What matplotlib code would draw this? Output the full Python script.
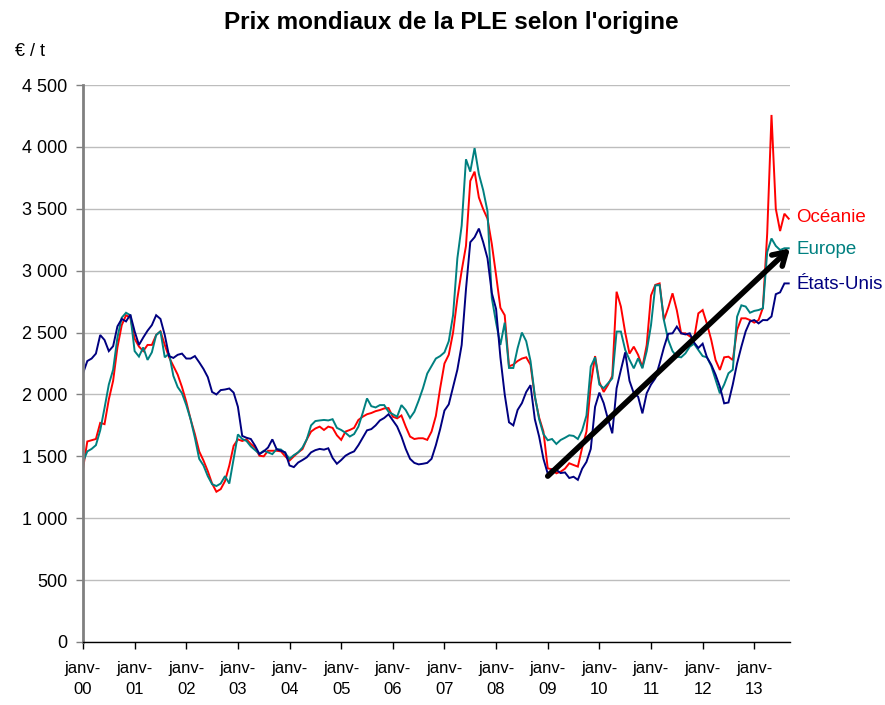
import matplotlib
matplotlib.use("Agg")
import matplotlib.pyplot as plt
from matplotlib.ticker import FixedLocator, FuncFormatter, MultipleLocator
import numpy as np

# Monthly prices (EUR / t), January 2000 to September 2013
oceanie = [
    1400, 1620, 1630, 1640, 1770, 1760, 1960, 2110, 2380, 2560,
    2640, 2620, 2450, 2387, 2350, 2400, 2400, 2480, 2510, 2400,
    2300, 2230, 2160, 2060, 1941, 1800, 1680, 1540, 1466, 1380,
    1280, 1214, 1235, 1300, 1426, 1585, 1637, 1624, 1637, 1600,
    1570, 1505, 1500, 1545, 1545, 1545, 1540, 1500, 1466, 1500,
    1532, 1558, 1637, 1700, 1725, 1740, 1713, 1740, 1730, 1670,
    1633, 1700, 1713, 1730, 1794, 1820, 1840, 1850, 1865, 1874,
    1887, 1890, 1820, 1807, 1830, 1740, 1660, 1640, 1646, 1646,
    1633, 1700, 1826, 2050, 2250, 2321, 2500, 2775, 3000, 3200,
    3725, 3800, 3591, 3497, 3420, 3216, 2962, 2700, 2640, 2227,
    2241, 2270, 2290, 2300, 2240, 1980, 1813, 1700, 1403, 1395,
    1363, 1376, 1400, 1444, 1430, 1417, 1570, 1700, 2080, 2310,
    2100, 2020, 2077, 2150, 2830, 2710, 2500, 2330, 2386, 2320,
    2220, 2400, 2800, 2885, 2897, 2600, 2700, 2817, 2680, 2494,
    2494, 2470, 2450, 2655, 2682, 2570, 2440, 2278, 2198, 2300,
    2305, 2278, 2521, 2615, 2615, 2601, 2580, 2601, 2700, 3300,
    4258, 3500, 3320, 3460, 3420,
]

europe = [
    1455, 1540, 1560, 1590, 1710, 1890, 2080, 2200, 2460, 2620,
    2660, 2640, 2350, 2306, 2380, 2279, 2340, 2480, 2510, 2300,
    2330, 2150, 2060, 2010, 1914, 1800, 1650, 1480, 1426, 1340,
    1275, 1260, 1280, 1340, 1280, 1480, 1677, 1640, 1624, 1580,
    1550, 1520, 1545, 1532, 1518, 1558, 1555, 1525, 1480, 1510,
    1532, 1571, 1637, 1750, 1785, 1790, 1794, 1790, 1800, 1730,
    1713, 1690, 1660, 1680, 1740, 1850, 1968, 1905, 1895, 1914,
    1914, 1860, 1840, 1820, 1914, 1874, 1810, 1860, 1950, 2050,
    2169, 2230, 2290, 2310, 2340, 2430, 2640, 3100, 3364, 3900,
    3800, 3990, 3780, 3650, 3480, 2780, 2580, 2400, 2580, 2214,
    2214, 2374, 2500, 2430, 2270, 1990, 1800, 1680, 1630, 1640,
    1600, 1632, 1650, 1670, 1665, 1640, 1710, 1830, 2225, 2300,
    2080, 2050, 2090, 2130, 2508, 2508, 2360, 2280, 2211, 2292,
    2211, 2350, 2560, 2880, 2884, 2600, 2440, 2350, 2305, 2300,
    2332, 2386, 2410, 2359, 2310, 2300, 2230, 2120, 2009, 2080,
    2171, 2200, 2628, 2720, 2710, 2660, 2675, 2682, 2696, 3150,
    3260, 3200, 3167, 3181, 3181,
]

etats_unis = [
    2170, 2270, 2290, 2330, 2480, 2440, 2350, 2390, 2550, 2610,
    2590, 2645, 2510, 2400, 2460, 2515, 2560, 2640, 2610, 2480,
    2310, 2295, 2320, 2330, 2290, 2290, 2310, 2260, 2206, 2140,
    2020, 2000, 2035, 2040, 2048, 2015, 1900, 1665, 1650, 1640,
    1585, 1518, 1540, 1571, 1637, 1558, 1545, 1532, 1426, 1413,
    1450, 1470, 1492, 1532, 1550, 1560, 1554, 1565, 1487, 1440,
    1470, 1505, 1525, 1540, 1590, 1650, 1710, 1720, 1750, 1790,
    1810, 1840, 1790, 1741, 1660, 1560, 1480, 1447, 1435, 1440,
    1447, 1480, 1590, 1720, 1870, 1920, 2060, 2200, 2400, 2850,
    3230, 3270, 3340, 3230, 3100, 2820, 2690, 2300, 2000, 1775,
    1750, 1875, 1930, 2020, 2075, 1800, 1660, 1480, 1360, 1395,
    1390, 1365, 1370, 1325, 1335, 1310, 1400, 1455, 1560, 1900,
    2015, 1930, 1800, 1686, 2050, 2198, 2340, 2110, 2009, 1982,
    1847, 2010, 2080, 2130, 2250, 2380, 2490, 2494, 2548, 2494,
    2485, 2494, 2420, 2375, 2410, 2300, 2240, 2160, 2063, 1928,
    1935, 2080, 2250, 2386, 2510, 2590, 2601, 2574, 2601, 2600,
    2630, 2810, 2825, 2897, 2897,
]

year_labels = ["00", "01", "02", "03", "04", "05", "06",
               "07", "08", "09", "10", "11", "12", "13"]
series_names = ["Océanie", "Europe", "États-Unis"]
series_colors = ["#FF0000", "#008080", "#000080"]

months = np.arange(len(oceanie))

fig = plt.figure(figsize=(8.85, 7.05), dpi=100)
ax = fig.add_axes([83 / 885, 63 / 705, 707 / 885, 557 / 705])

font = ["Liberation Sans", "DejaVu Sans"]

for vals, col in zip([oceanie, europe, etats_unis], series_colors):
    ax.plot(months, vals, color=col, lw=1.4, solid_joinstyle="miter")

ax.set_xlim(0, 164.3)
ax.set_ylim(0, 4500)

ax.yaxis.set_major_locator(MultipleLocator(500))
ax.yaxis.set_major_formatter(
    FuncFormatter(lambda v, p: f"{int(v):,}".replace(",", " ")))
ax.grid(axis="y", color="#BDBDBD", lw=1.0)
ax.set_axisbelow(True)

tick_pos = [12 * i for i in range(len(year_labels))]
ax.xaxis.set_major_locator(FixedLocator(tick_pos))
ax.set_xticklabels([f"janv-\n{y}" for y in year_labels],
                   family=font, fontsize=12, linespacing=1.45)
for lab in ax.get_yticklabels():
    lab.set_family(font)
    lab.set_fontsize(13)

ax.tick_params(axis="x", length=5, width=1, color="#000000", pad=9)
ax.tick_params(axis="y", length=5, width=1, color="#808080", pad=6)

for s in ["top", "right"]:
    ax.spines[s].set_visible(False)
ax.spines["left"].set_color("#808080")
ax.spines["left"].set_linewidth(2)
ax.spines["bottom"].set_color("#000000")
ax.spines["bottom"].set_linewidth(1)

# Trend arrow
ax.annotate("", xy=(164.3, 3180), xytext=(108, 1340),
            arrowprops=dict(arrowstyle="->, head_length=0.9, head_width=0.55",
                            color="black", lw=4.0, shrinkA=0, shrinkB=0),
            annotation_clip=False)

# Series labels at the right end
label_y = [3430, 3170, 2890]
for name, col, yv in zip(series_names, series_colors, label_y):
    ax.text(165.8, yv, name, color=col, fontsize=13.5, family=font,
            va="center", ha="left", clip_on=False)

fig.text(451 / 885, 1 - 22 / 705, "Prix mondiaux de la PLE selon l'origine",
         ha="center", va="center", fontsize=17.5, fontweight="bold",
         family=font)
fig.text(15 / 885, 1 - 51 / 705, "€ / t", ha="left", va="center",
         fontsize=13, family=font)

fig.savefig("out.png", dpi=100)
